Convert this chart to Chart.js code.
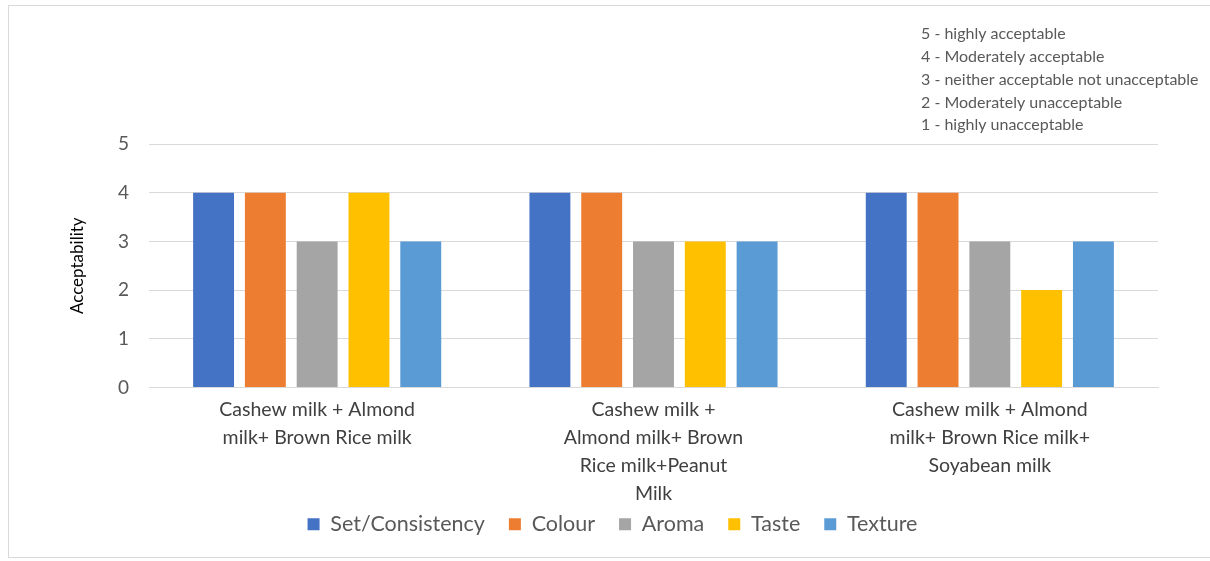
<!DOCTYPE html>
<html><head><meta charset="utf-8">
<script src="https://cdn.jsdelivr.net/npm/chart.js@4.4.1/dist/chart.umd.min.js"></script>
<style>html,body{margin:0;padding:0;background:#fff;}#wrap{width:1210px;height:561px;position:relative;}</style>
</head><body><div id="wrap"><canvas id="c" width="1210" height="561"></canvas></div>
<script>
const categories = [
  ["Cashew milk + Almond", "milk+ Brown Rice milk"],
  ["Cashew milk +", "Almond milk+ Brown", "Rice milk+Peanut", "Milk"],
  ["Cashew milk + Almond", "milk+ Brown Rice milk+", "Soyabean milk"]
];
const seriesNames = ["Set/Consistency", "Colour", "Aroma", "Taste", "Texture"];
const setConsistency = [4, 4, 4];
const colour = [4, 4, 4];
const aroma = [3, 3, 3];
const taste = [4, 3, 2];
const texture = [3, 3, 3];
const yTicks = [0, 1, 2, 3, 4, 5];
const yTitle = "Acceptability";
const noteLines = [
  "5 - highly acceptable",
  "4 - Moderately acceptable",
  "3 - neither acceptable not unacceptable",
  "2 - Moderately unacceptable",
  "1 - highly unacceptable"
];
const colors = ["#4472C4", "#ED7D31", "#A5A5A5", "#FFC000", "#5B9BD5"];
const values = [setConsistency, colour, aroma, taste, texture];

const FONT = "Lato, 'Open Sans', sans-serif";

const decor = {
  id: 'decor',
  beforeDraw(chart) {
    const ctx = chart.ctx;
    ctx.save();
    ctx.fillStyle = '#fff';
    ctx.fillRect(0, 0, chart.width, chart.height);
    ctx.strokeStyle = '#D9D9D9';
    ctx.lineWidth = 1;
    ctx.strokeRect(8.5, 5.5, 1210, 552);
    ctx.restore();
  },
  afterDraw(chart) {
    const ctx = chart.ctx;
    ctx.save();
    ctx.fillStyle = '#595959';
    ctx.font = "16px " + FONT;
    ctx.textBaseline = 'middle';
    ctx.textAlign = 'left';
    noteLines.forEach((t, i) => ctx.fillText(t, 921, 34 + i * 22.8));
    ctx.restore();
  }
};

new Chart(document.getElementById('c'), {
  type: 'bar',
  data: {
    labels: categories,
    datasets: seriesNames.map((n, i) => ({
      label: n,
      data: values[i],
      backgroundColor: colors[i],
      borderWidth: 0,
      barPercentage: 0.79,
      categoryPercentage: 0.77
    }))
  },
  options: {
    responsive: false,
    animation: false,
    devicePixelRatio: 1,
    layout: { padding: { left: 67, right: 52, top: 144, bottom: 16 } },
    plugins: {
      legend: {
        position: 'bottom',
        labels: {
          font: { family: FONT, size: 21.5 },
          color: '#595959',
          boxWidth: 12, boxHeight: 12,
          padding: 24
        }
      },
      tooltip: { enabled: false }
    },
    scales: {
      x: {
        grid: { display: false, drawTicks: false },
        border: { color: '#D9D9D9' },
        ticks: {
          font: { family: FONT, size: 19.5, lineHeight: 1.44 },
          color: '#404040',
          maxRotation: 0, autoSkip: false,
          padding: 8
        },
        afterFit(s) { s.height = 102; s._computeLabelArea = () => null; }
      },
      y: {
        min: 0, max: 5,
        afterBuildTicks(s) { s.ticks = yTicks.map(v => ({ value: v })); },
        grid: { color: '#D9D9D9', drawTicks: false },
        border: { display: false },
        ticks: {
          font: { family: FONT, size: 19 },
          color: '#595959',
          padding: 20
        },
        title: {
          display: true, text: yTitle,
          font: { family: FONT, size: 17 },
          color: '#000',
          padding: 0
        },
        afterFit(s) { s.width = 82; }
      }
    }
  },
  plugins: [decor]
});
</script></body></html>
